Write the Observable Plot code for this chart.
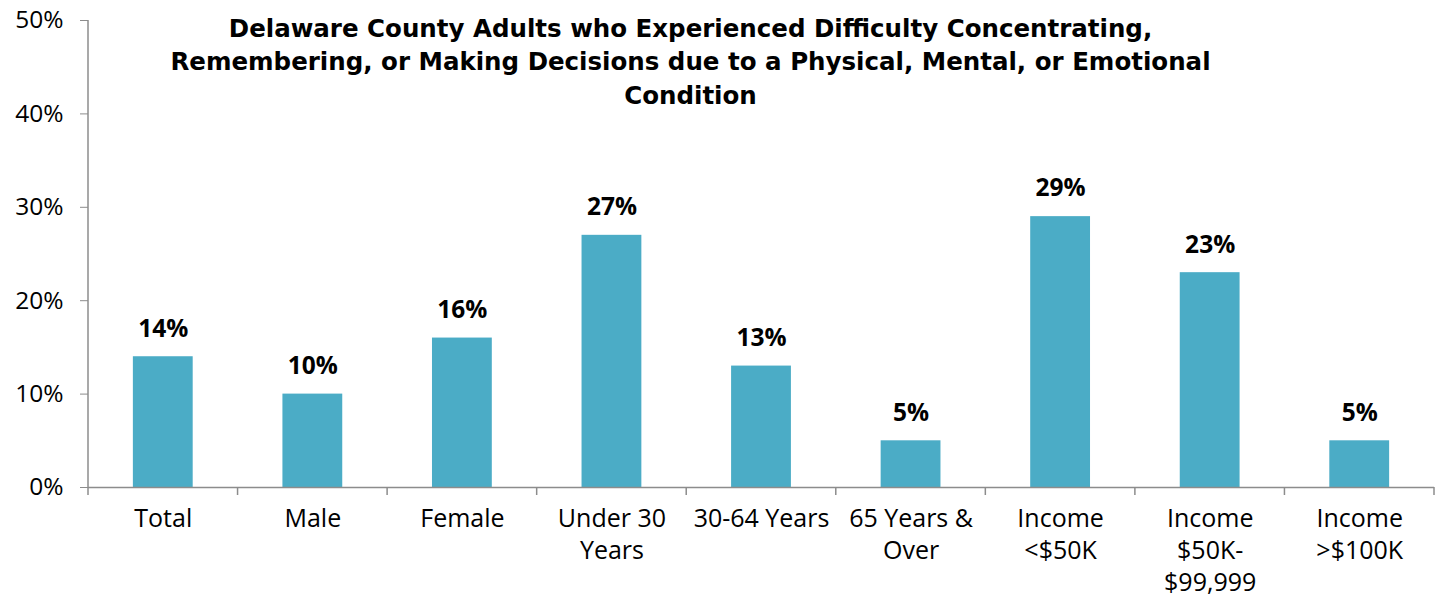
<!DOCTYPE html>
<html>
<head>
<meta charset="utf-8">
<script src="https://cdn.jsdelivr.net/npm/d3@7"></script>
<script src="https://cdn.jsdelivr.net/npm/@observablehq/plot@0.6"></script>
<style>
  html, body { margin: 0; padding: 0; background: #fff; }
  #chart { width: 1436px; height: 598px; }
</style>
</head>
<body>
<div id="chart"></div>
<script>
const categories = ["Total", "Male", "Female", "Under 30\nYears", "30-64 Years", "65 Years &\nOver", "Income\n<$50K", "Income\n$50K-\n$99,999", "Income\n>$100K"];
const values = [0.14, 0.10, 0.16, 0.27, 0.13, 0.05, 0.29, 0.23, 0.05];
const yTicks = [0, 0.1, 0.2, 0.3, 0.4, 0.5];
const titleText = "Delaware County Adults who Experienced Difficulty Concentrating,\nRemembering, or Making Decisions due to a Physical, Mental, or Emotional\nCondition";

const data = categories.map((c, i) => ({category: c, value: values[i]}));
const axisColor = "#8c8c8c";
const labelFont = "'Open Sans', 'Noto Sans', sans-serif";

const plot = Plot.plot({
  width: 1436,
  height: 598,
  marginLeft: 88,
  marginRight: 2,
  marginTop: 20,
  marginBottom: 111,
  style: {fontFamily: labelFont, fontSize: "24px", color: "#000", background: "#fff"},
  x: {domain: categories, paddingInner: 0.6, paddingOuter: 0.3, round: false},
  y: {domain: [0, 0.5]},
  marks: [
    Plot.barY(data, {x: "category", y: "value", fill: "#4BACC6"}),
    Plot.text(data, {x: "category", y: "value", text: d => d3.format(".0%")(d.value), dy: -28, fontWeight: "bold", fontSize: 24.5, fill: "#000"}),
    Plot.axisY({ticks: yTicks, tickFormat: d3.format(".0%"), tickSize: 8, tickPadding: 17, stroke: axisColor, strokeOpacity: 1, fill: "#000", fontSize: 24.5, label: null}),
    Plot.ruleY([0], {stroke: axisColor, strokeWidth: 1.5}),
    Plot.axisX({tickSize: 0, tickPadding: 17, fontSize: 25, lineHeight: 1.28, fill: "#000", label: null, textAnchor: "middle"}),
    Plot.text([titleText], {frameAnchor: "top", text: d => d, dx: -71, dy: -8, lineAnchor: "top", lineHeight: 1.38, fontWeight: "bold", fontSize: 24.5, fontFamily: "'DejaVu Sans', sans-serif", fill: "#000"})
  ]
});

// vertical axis line and category-boundary ticks, drawn from Plot's scales
const xs = plot.scale("x");
const ys = plot.scale("y");
const svg = d3.select(plot);
const step = xs.step;
const y0 = ys.apply(0);
const yTop = ys.apply(0.5);
const x0 = xs.apply(categories[0]) - step * 0.3;
svg.append("line").attr("x1", x0).attr("x2", x0).attr("y1", yTop).attr("y2", y0)
  .attr("stroke", axisColor).attr("stroke-width", 1.5);
for (let i = 0; i <= categories.length; i++) {
  const xb = x0 + i * step;
  svg.append("line").attr("x1", xb).attr("x2", xb).attr("y1", y0).attr("y2", y0 + 8)
    .attr("stroke", axisColor).attr("stroke-width", 1.5);
}
document.getElementById("chart").appendChild(plot);
</script>
</body>
</html>
